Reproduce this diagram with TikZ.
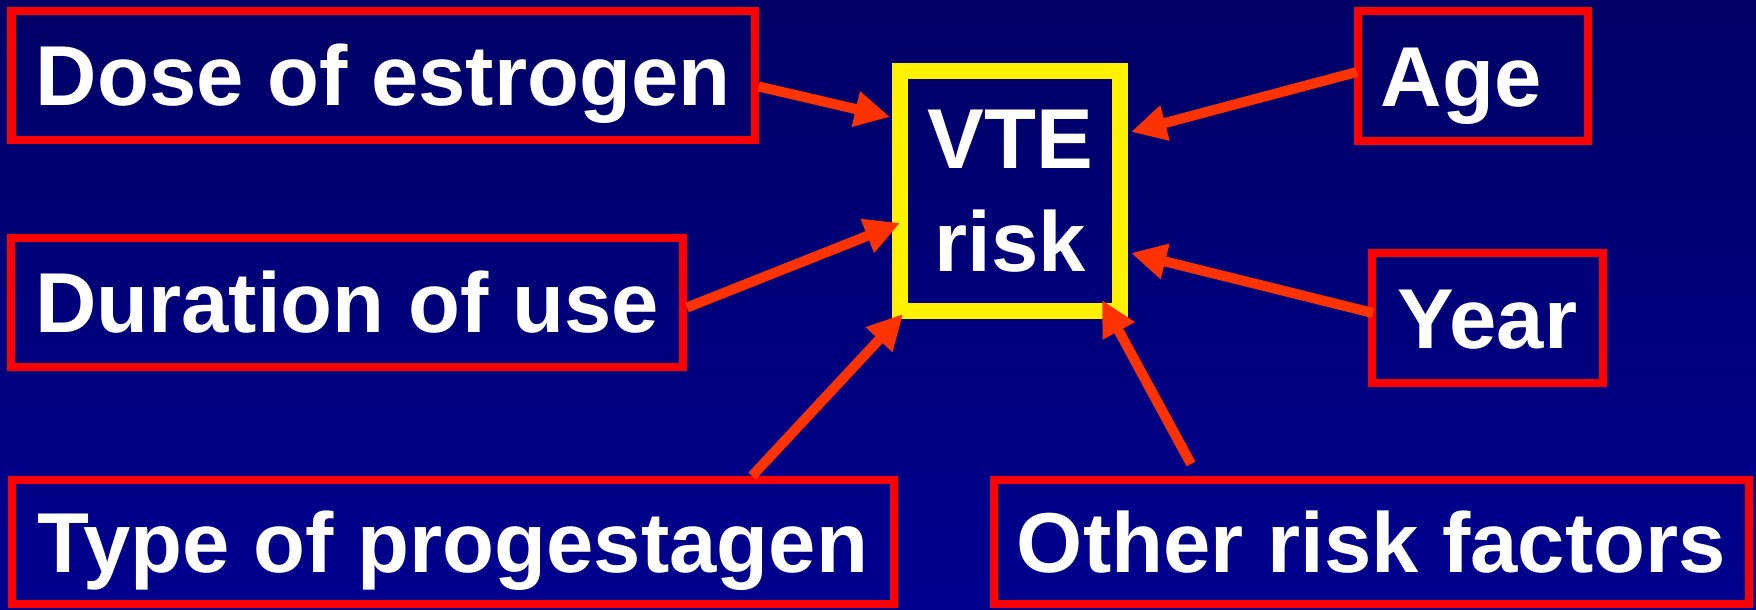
\documentclass[tikz,border=0pt]{standalone}
\usepackage{fontspec}
\setmainfont{Liberation Sans}
\usepackage{tikz}
\usetikzlibrary{arrows.meta,calc}
\definecolor{bgtop}{HTML}{000066}
\definecolor{bgbottom}{HTML}{00008F}
\definecolor{arrowred}{HTML}{FF3300}

\begin{document}
\begin{tikzpicture}[
            > = {Triangle[width=9.7pt,length=10pt]}, % arrow head style
            every node/.style={font=\fontsize{24.2}{29.3}\selectfont\bfseries, text=white}
        ]

        \tikzstyle{factor}=[
            draw = red,
            line width = 2.28pt,
            text height = 17.3pt,
            text depth = 0pt,
            inner sep = 0pt,
            minimum height = 1.29cm
        ]
        \tikzstyle{risk}=[
            draw = yellow,
            line width = 4.55pt,
            align = center,
            minimum width = 2.2cm,
            minimum height = 2.4cm
        ]
        \tikzstyle{push}=[->, draw = arrowred, line width = 2.85pt]

        % sfondo
        \shade[top color=bgtop, bottom color=bgbottom] (0,0) rectangle (17.56,6.10);
        \useasboundingbox (0,0) rectangle (17.56,6.10);

        % box centrale
        \node[risk] (vte) at (10.10,4.19) {VTE\\risk};

        % fattori a sinistra
        \node[factor, minimum width=7.43cm] (dose) at (3.83,5.345) {Dose of estrogen};
        \node[factor, minimum width=6.72cm] (duration) at (3.47,3.075) {Duration of use};
        \node[factor, minimum width=8.82cm, minimum height=1.24cm] (type) at (4.53,0.68) {Type of progestagen};

        % fattori a destra
        \node[factor, minimum width=2.30cm, minimum height=1.30cm] (age) at (14.73,5.34) {Age\mbox{ }};
        \node[factor, minimum width=2.31cm, minimum height=1.30cm] (year) at (14.875,2.92) {Year};
        \node[factor, minimum width=7.55cm, minimum height=1.24cm] (other) at (13.715,0.68) {Other risk factors};
        \coordinate (loose) at (11.91,1.46); % freccia staccata dal box

        % frecce
        \draw[push] ($(dose.east)+(0,-0.11)$) -- ($(vte.west)+(-0.02,0.74)$);
        \draw[push] ($(duration.east)+(0,-0.05)$) -- ($(vte.west)+(0.08,-0.32)$);
        \draw[push] ($(type.north east)+(-1.46,0)$) -- ($(vte.south west)+(0.11,0.05)$);
        \draw[push] (loose) -- ($(vte.south east)+(-0.26,0.19)$);
        \draw[push] ($(age.west)+(0.03,0.04)$) -- ($(vte.east)+(0.03,0.59)$);
        \draw[push] ($(year.west)+(0.05,0.05)$) -- ($(vte.east)+(0.03,-0.62)$);

\end{tikzpicture}
\end{document}
